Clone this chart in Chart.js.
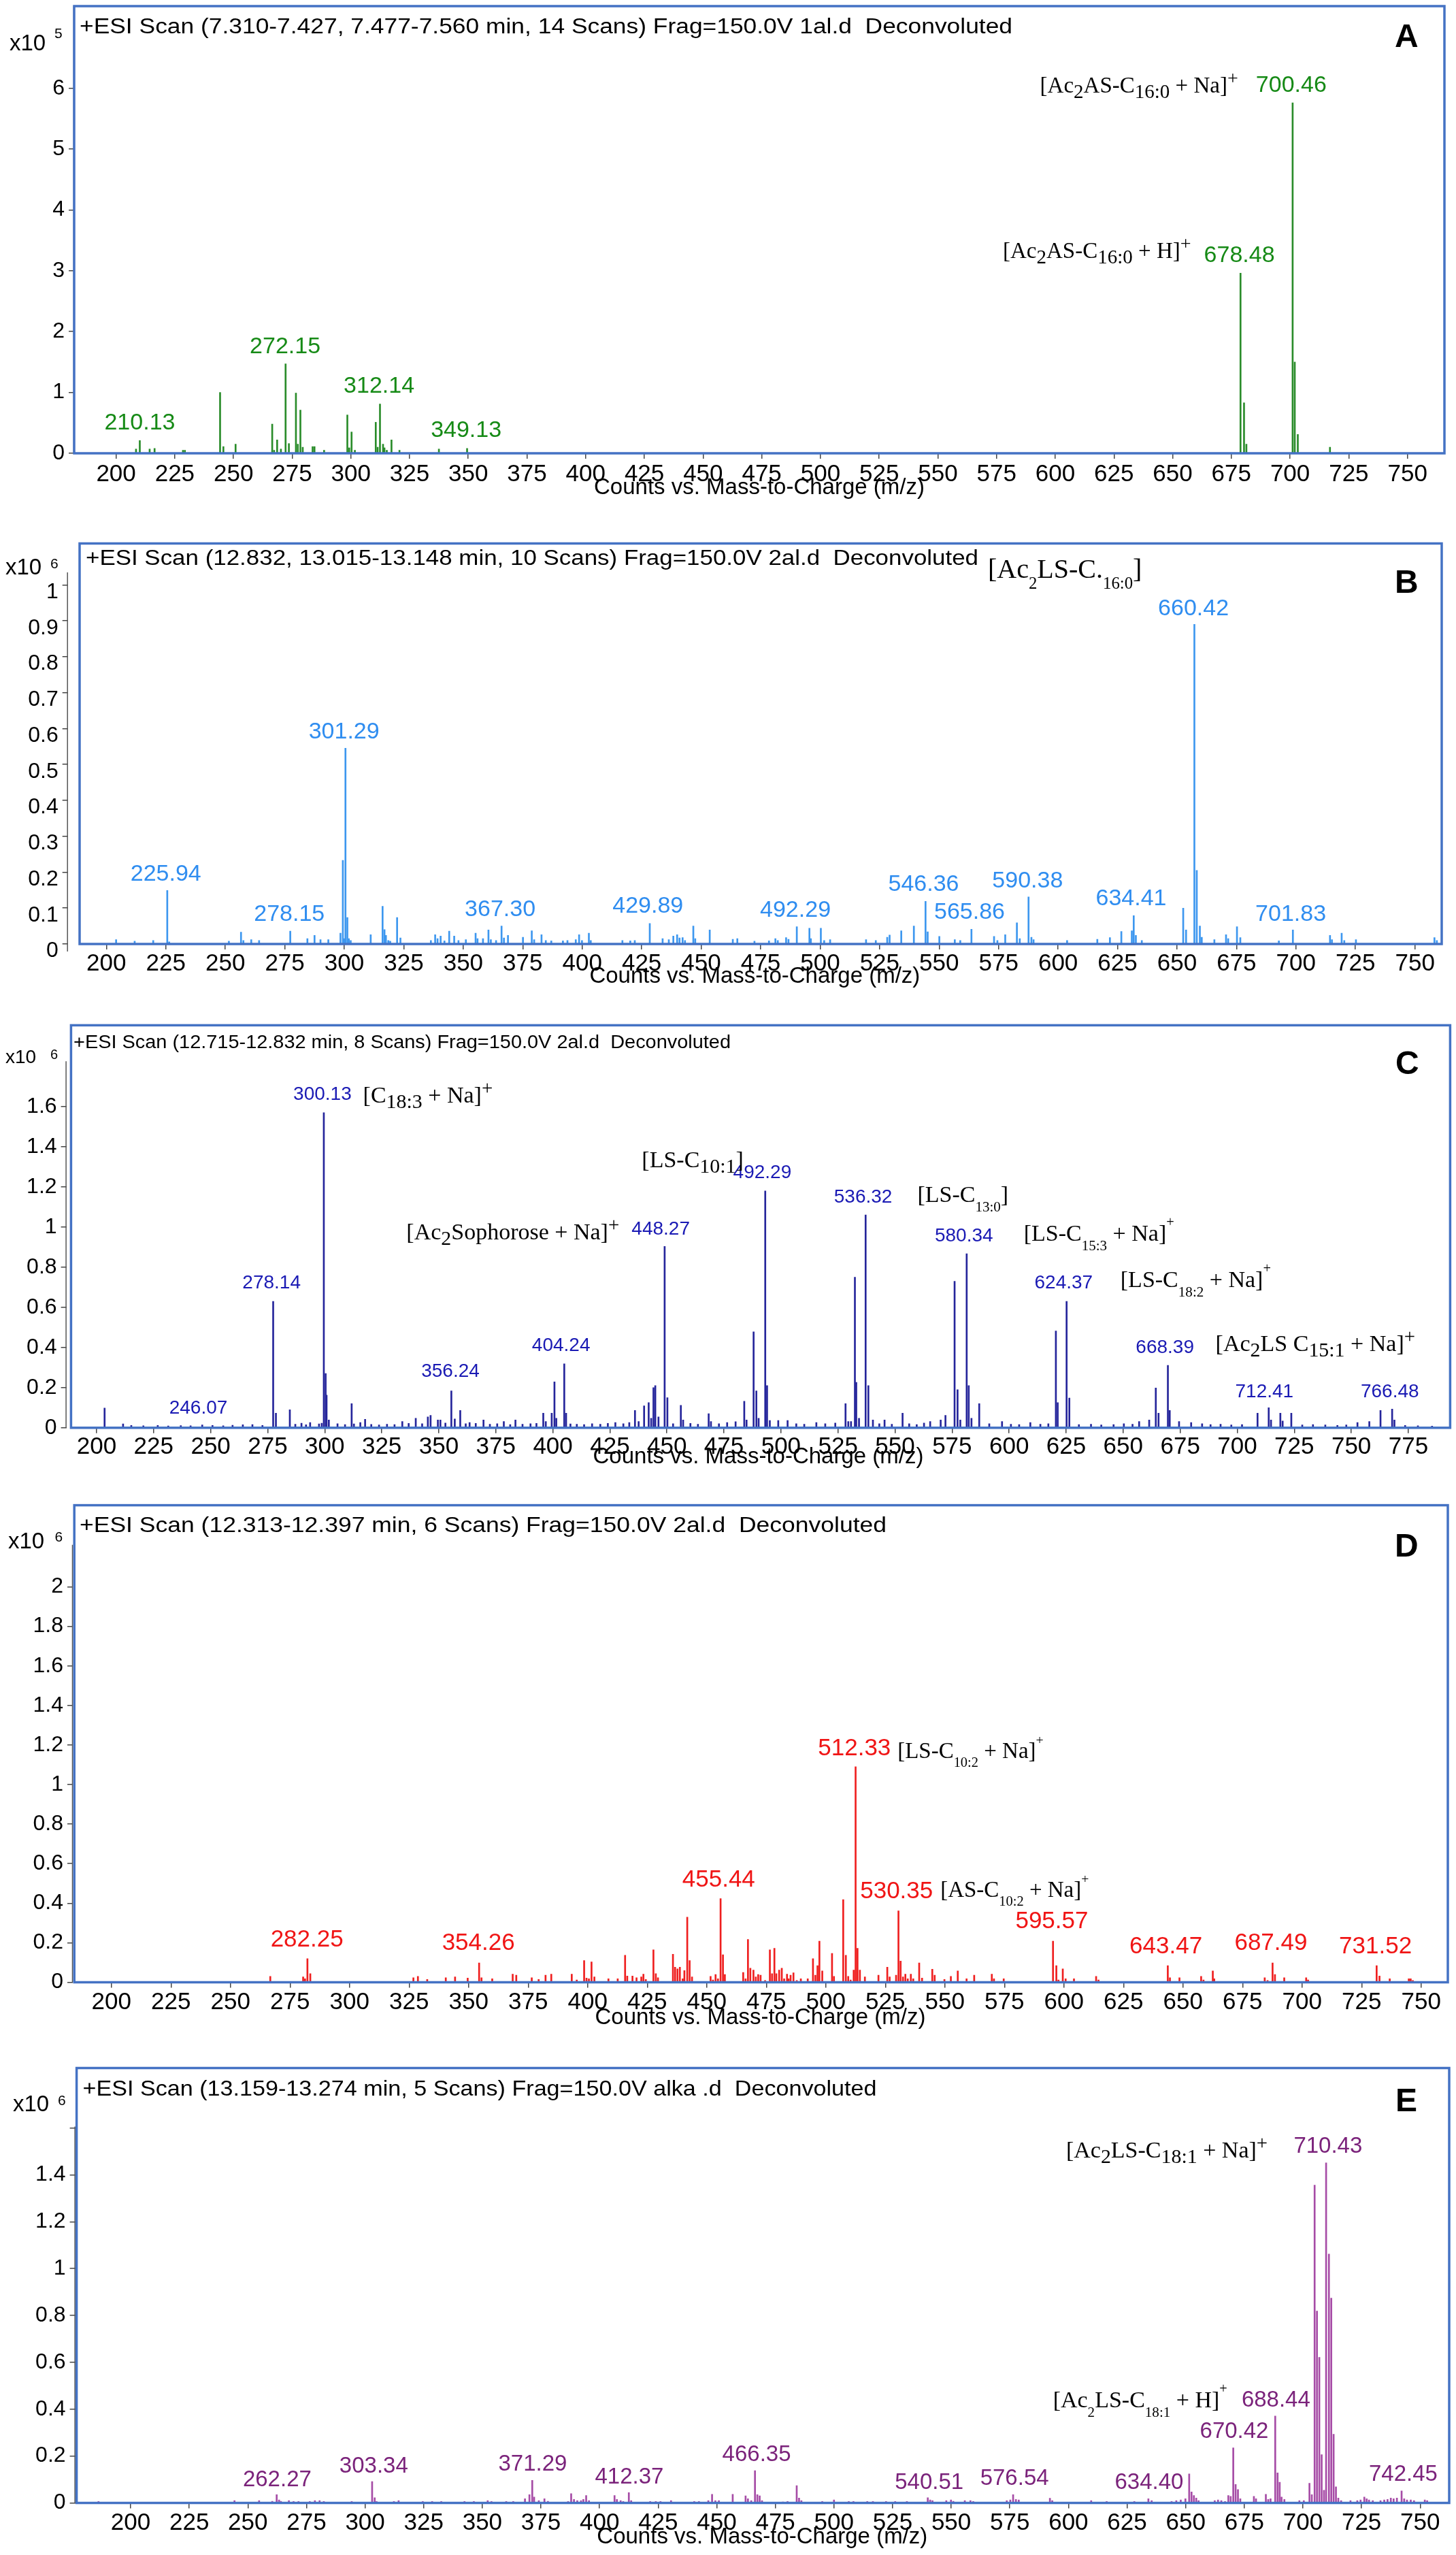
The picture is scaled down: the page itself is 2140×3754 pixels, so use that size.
<!DOCTYPE html>
<html>
<head>
<meta charset="utf-8">
<script src="https://cdn.jsdelivr.net/npm/chart.js@4.4.1/dist/chart.umd.min.js"></script>
<style>
html,body{margin:0;padding:0;background:#ffffff;}
#page{position:relative;width:2140px;height:3754px;overflow:hidden;background:#ffffff;}
#page canvas{position:absolute;left:0;}
</style>
</head>
<body>
<div id="page"></div>
<script>
// ---------------- DATA ----------------
const xTicksStd = [200,225,250,275,300,325,350,375,400,425,450,475,500,525,550,575,600,625,650,675,700,725,750];
const xTickLabelsStd = ['200','225','250','275','300','325','350','375','400','425','450','475','500','525','550','575','600','625','650','675','700','725','750'];
const xTicksC = [200,225,250,275,300,325,350,375,400,425,450,475,500,525,550,575,600,625,650,675,700,725,750,775];
const xTickLabelsC = ['200','225','250','275','300','325','350','375','400','425','450','475','500','525','550','575','600','625','650','675','700','725','750','775'];

const yTicksA = [0,1,2,3,4,5,6];
const yTickLabelsA = ['0','1','2','3','4','5','6'];
const yTicksB = [0,0.1,0.2,0.3,0.4,0.5,0.6,0.7,0.8,0.9,1];
const yTickLabelsB = ['0','0.1','0.2','0.3','0.4','0.5','0.6','0.7','0.8','0.9','1'];
const yTicksC = [0,0.2,0.4,0.6,0.8,1,1.2,1.4,1.6];
const yTickLabelsC = ['0','0.2','0.4','0.6','0.8','1','1.2','1.4','1.6'];
const yTicksD = [0,0.2,0.4,0.6,0.8,1,1.2,1.4,1.6,1.8,2];
const yTickLabelsD = ['0','0.2','0.4','0.6','0.8','1','1.2','1.4','1.6','1.8','2'];
const yTicksE = [0,0.2,0.4,0.6,0.8,1,1.2,1.4,1.6];
const yTickLabelsE = ['0','0.2','0.4','0.6','0.8','1','1.2','1.4',''];

const headerA = '+ESI Scan (7.310-7.427, 7.477-7.560 min, 14 Scans) Frag=150.0V 1al.d  Deconvoluted';
const headerB = '+ESI Scan (12.832, 13.015-13.148 min, 10 Scans) Frag=150.0V 2al.d  Deconvoluted';
const headerC = '+ESI Scan (12.715-12.832 min, 8 Scans) Frag=150.0V 2al.d  Deconvoluted';
const headerD = '+ESI Scan (12.313-12.397 min, 6 Scans) Frag=150.0V 2al.d  Deconvoluted';
const headerE = '+ESI Scan (13.159-13.274 min, 5 Scans) Frag=150.0V alka .d  Deconvoluted';
const xAxisTitle = 'Counts vs. Mass-to-Charge (m/z)';

// Panel A (x10^5 counts)
const mzA = [208.5,210.1,214.3,216.4,228.5,229.3,244.3,245.7,250.9,266.5,267.3,268.6,270.2,272.2,273.6,276.6,277.4,278.5,279.5,283.7,284.5,288.6,298.5,299.3,300.3,301.7,310.6,311.4,312.4,313.7,314.3,315.3,317.3,320.7,337.5,349.5,678.9,680.4,681.4,701.1,702.0,703.3,717.0];
const intA = [0.07,0.21,0.07,0.08,0.05,0.05,1.00,0.11,0.15,0.48,0.05,0.22,0.07,1.47,0.16,0.99,0.15,0.71,0.10,0.11,0.11,0.05,0.63,0.09,0.35,0.05,0.51,0.10,0.81,0.15,0.09,0.05,0.22,0.05,0.07,0.08,2.96,0.83,0.15,5.76,1.50,0.31,0.10];
const pkTextA = ['210.13','272.15','312.14','349.13','678.48','700.46'];
const pkXA = [210.1,272.0,312.0,349.1,678.4,700.5];
const pkYA = [0.50,1.75,1.10,0.37,3.25,6.04];
const annTextA = ['[Ac_{2}AS-C_{16:0} + H]^{+}','[Ac_{2}AS-C_{16:0} + Na]^{+}'];
const annXA = [577.7,593.5];
const annYA = [3.21,5.93];

// Panel B (x10^6 counts)
const mzB = [204.1,211.9,219.7,225.6,226.4,251.5,256.6,257.6,260.9,264.2,
 277.3,284.5,287.5,290.0,293.3,298.4,299.4,299.9,300.5,301.3,
 301.9,302.7,311.1,316.1,316.9,317.5,318.5,319.3,322.2,323.6,
 336.4,338.2,339.2,340.5,342.1,344.1,346.2,348.0,351.1,355.2,
 356.0,358.3,360.6,361.6,363.8,366.1,367.1,368.8,375.1,378.8,
 379.8,382.9,384.7,387.0,391.9,393.8,397.3,398.7,399.9,402.8,
 403.6,416.9,420.2,422.1,428.4,433.8,436.4,438.3,439.9,440.9,
 442.2,443.2,446.7,447.5,453.6,
 463.3,465.2,472.4,478.5,481.2,482.2,485.7,486.7,490.2,495.5,
 496.1,500.3,501.7,504.2,519.3,523.4,528.2,529.2,534.1,539.4,
 544.3,545.2,550.1,556.6,558.9,563.6,573.1,574.5,577.8,582.7,
 583.9,587.6,588.8,589.7,603.8,616.5,621.8,626.6,631.0,631.8,
 632.7,635.2,652.6,653.8,657.3,658.3,659.6,660.4,665.7,670.6,
 671.5,675.2,676.6,692.8,698.7,714.3,715.1,719.2,720.3,725.2,
 758.2,759.2];
const intB = [0.012,0.008,0.010,0.149,0.006,0.008,0.033,0.010,0.012,0.010,
 0.036,0.015,0.024,0.012,0.012,0.030,0.233,0.015,0.545,0.074,
 0.015,0.010,0.026,0.105,0.040,0.024,0.010,0.008,0.074,0.017,
 0.010,0.026,0.015,0.022,0.009,0.036,0.022,0.010,0.012,0.030,
 0.015,0.015,0.039,0.012,0.010,0.050,0.017,0.024,0.019,0.037,
 0.012,0.026,0.010,0.009,0.009,0.010,0.012,0.026,0.010,0.030,
 0.010,0.010,0.009,0.010,0.057,0.015,0.012,0.022,0.026,0.017,
 0.018,0.010,0.050,0.015,0.039,
 0.013,0.015,0.008,0.009,0.015,0.010,0.018,0.013,0.048,0.044,
 0.015,0.044,0.010,0.012,0.012,0.010,0.019,0.025,0.037,0.050,
 0.119,0.034,0.021,0.012,0.010,0.041,0.021,0.010,0.026,0.059,
 0.015,0.131,0.019,0.012,0.010,0.013,0.018,0.035,0.037,0.079,
 0.024,0.010,0.100,0.039,0.890,0.205,0.050,0.019,0.012,0.026,
 0.015,0.048,0.018,0.009,0.039,0.024,0.012,0.030,0.010,0.012,
 0.018,0.010];
const pkTextB = ['225.94','278.15','301.29','367.30','429.89','492.29','546.36','565.86','590.38','634.41','660.42','701.83'];
const pkXB = [225.0,276.9,299.9,365.5,427.6,489.6,543.5,562.8,587.2,630.7,656.9,697.8];
const pkYB = [0.194,0.0815,0.591,0.096,0.105,0.094,0.166,0.087,0.175,0.125,0.934,0.082];
const annTextB = ['[Ac__{2}LS-C.__{16:0}]'];
const annXB = [570.5];
const annYB = [1.02];

// Panel C (x10^6 counts)
const mzC = [203.5,211.6,277.4,278.6,284.7,289.8,293.6,297.5,298.7,299.6,
 300.4,300.8,301.8,311.8,312.8,315.6,317.7,334.0,339.9,345.2,
 346.4,349.6,350.7,355.5,357.0,359.4,363.5,369.6,378.5,383.6,
 395.8,396.9,399.5,400.7,401.5,405.0,405.8,407.7,427.4,436.0,
 437.6,440.0,442.0,443.1,444.1,444.9,446.3,449.0,450.2,456.1,
 457.1,468.3,469.3,
 483.9,484.9,488.0,489.2,490.2,493.1,493.9,495.1,498.8,502.9,
 515.5,528.3,529.5,530.7,532.4,533.0,534.2,537.1,538.3,540.3,
 545.4,553.3,559.5,565.4,570.0,572.1,576.1,577.4,578.6,581.4,
 582.3,583.5,586.9,596.9,609.3,620.5,621.3,625.2,626.4,657.0,
 661.4,664.3,665.5,669.6,670.4,674.5,679.8,708.9,713.8,714.8,
 718.9,719.9,723.7,752.7,757.9,762.8,767.9,768.9];
const intC = [0.098,0.019,0.63,0.073,0.09,0.023,0.026,0.019,0.023,1.57,
 0.27,0.163,0.039,0.12,0.019,0.026,0.042,0.031,0.047,0.054,
 0.062,0.039,0.039,0.184,0.044,0.086,0.026,0.039,0.031,0.039,
 0.073,0.031,0.073,0.229,0.047,0.319,0.073,0.019,0.026,0.086,
 0.031,0.109,0.125,0.047,0.2,0.21,0.054,0.903,0.15,0.112,
 0.039,0.07,0.031,
 0.132,0.039,0.478,0.184,0.047,1.18,0.21,0.036,0.036,0.036,
 0.026,0.12,0.031,0.031,0.75,0.226,0.047,1.06,0.21,0.039,
 0.039,0.073,0.016,0.031,0.039,0.062,0.73,0.19,0.039,0.867,
 0.21,0.047,0.12,0.031,0.026,0.482,0.125,0.63,0.148,0.031,
 0.039,0.198,0.073,0.311,0.086,0.031,0.026,0.073,0.1,0.039,
 0.073,0.034,0.073,0.026,0.031,0.086,0.093,0.039];
const mzCn = [215.2,220.5,226.8,231.4,236.9,241.2,246.3,250.8,255.5,259.6,
 264.1,268.3,272.7,287.1,291.8,305.6,308.9,320.4,323.8,327.3,
 330.6,336.8,342.7,352.9,361.8,366.2,372.4,375.6,381.3,386.7,
 390.2,392.8,410.5,413.7,417.2,420.8,424.1,430.9,433.5,452.7,
 460.3,463.6,472.8,476.4,480.1,506.7,510.2,519.4,523.8,543.1,
 548.6,556.2,562.7,591.3,600.8,604.4,613.7,617.2,630.6,635.9,
 640.4,645.8,650.3,654.1,684.6,688.3,692.7,697.4,702.1,728.5,
 733.2,738.6,743.9,747.8,773.6,779.2,785.4];
const intCn = [0.012,0.010,0.012,0.009,0.011,0.010,0.014,0.012,0.010,0.013,
 0.015,0.016,0.012,0.018,0.015,0.020,0.016,0.017,0.014,0.018,
 0.016,0.022,0.020,0.024,0.020,0.022,0.018,0.020,0.016,0.018,
 0.020,0.022,0.018,0.016,0.020,0.018,0.022,0.020,0.026,0.020,
 0.022,0.018,0.020,0.026,0.030,0.020,0.018,0.020,0.024,0.020,
 0.018,0.020,0.024,0.020,0.018,0.016,0.018,0.020,0.016,0.018,
 0.014,0.016,0.020,0.018,0.020,0.016,0.018,0.014,0.016,0.014,
 0.016,0.014,0.012,0.014,0.012,0.010,0.008];
const pkTextC = ['246.07','278.14','300.13','356.24','404.24','448.27','492.29','536.32','580.34','624.37','668.39','712.41','766.48'];
const pkXC = [244.6,276.7,299.0,355.1,403.6,447.3,491.8,536.0,580.2,623.9,668.3,711.9,766.9];
const pkYC = [0.098,0.72,1.66,0.28,0.41,0.99,1.27,1.149,0.954,0.72,0.397,0.179,0.179];
const annTextC = ['[C_{18:3} + Na]^{+}','[Ac_{2}Sophorose + Na]^{+}','[LS-C_{10:1}]','[LS-C__{13:0}]','[LS-C__{15:3} + Na]^^{+}','[LS-C__{18:2} + Na]^^{+}','[Ac_{2}LS C_{15:1} + Na]^{+}'];
const annXC = [316.8,335.8,439.0,559.8,606.4,648.8,690.5];
const annYC = [1.62,0.939,1.297,1.125,0.931,0.70,0.383];

// Panel D (x10^6 counts)
const mzD = [266.7,280.5,281.3,282.3,283.5,326.8,328.7,332.6,340.4,344.3,
 349.6,354.4,355.4,359.9,368.5,370.0,376.5,379.4,382.3,384.7,
 393.3,395.4,398.5,399.5,400.5,401.6,402.8,408.7,412.6,415.7,
 416.6,418.8,420.5,422.5,423.4,424.4,427.6,428.6,429.5,435.8,
 436.7,437.7,438.7,439.9,440.6,441.8,442.8,443.8,451.6,452.6,
 453.7,454.7,455.8,456.8,457.6,
 465.3,466.3,467.3,468.3,469.6,470.6,471.6,472.6,474.5,476.5,
 477.4,478.4,479.2,480.4,481.5,482.5,483.7,484.4,485.2,486.4,
 487.8,489.5,492.4,494.6,495.6,496.5,497.3,498.5,502.6,503.4,
 507.3,508.4,509.4,510.4,511.7,512.5,513.3,514.3,516.4,522.1,
 525.8,526.8,529.5,530.5,531.4,532.4,533.4,534.4,535.7,536.7,
 539.2,540.4,544.7,545.7,549.8,552.5,555.4,559.1,562.3,569.7,
 570.6,574.7,595.4,596.8,597.7,599.5,600.7,604.2,613.5,614.5,
 643.6,644.5,648.5,657.6,658.6,662.5,663.1,684.3,685.5,687.6,
 688.6,692.5,701.7,702.5,731.3,732.5,736.8,744.8,745.6,746.5];
const intD = [0.030,0.027,0.018,0.119,0.044,0.023,0.030,0.014,0.023,0.027,
 0.021,0.098,0.023,0.018,0.041,0.036,0.023,0.014,0.036,0.041,
 0.041,0.012,0.110,0.021,0.018,0.103,0.027,0.018,0.018,0.137,
 0.032,0.032,0.023,0.027,0.041,0.014,0.164,0.044,0.023,0.142,
 0.076,0.068,0.076,0.018,0.059,0.329,0.110,0.027,0.030,0.012,
 0.039,0.018,0.423,0.139,0.039,
 0.050,0.018,0.217,0.071,0.062,0.027,0.039,0.036,0.009,0.164,
 0.044,0.172,0.044,0.062,0.071,0.018,0.041,0.018,0.036,0.048,
 0.009,0.018,0.018,0.119,0.036,0.084,0.208,0.057,0.146,0.030,
 0.418,0.137,0.030,0.012,0.062,1.090,0.172,0.062,0.027,0.036,
 0.076,0.027,0.036,0.361,0.107,0.027,0.041,0.018,0.041,0.018,
 0.098,0.021,0.066,0.036,0.014,0.030,0.057,0.018,0.036,0.041,
 0.018,0.018,0.208,0.084,0.012,0.068,0.018,0.018,0.030,0.012,
 0.084,0.023,0.023,0.030,0.012,0.057,0.018,0.023,0.009,0.098,
 0.039,0.023,0.023,0.012,0.084,0.032,0.018,0.018,0.018,0.009];
const pkTextD = ['282.25','354.26','455.44','512.33','530.35','595.57','643.47','687.49','731.52'];
const pkXD = [282.1,354.1,455.0,512.0,529.7,594.9,642.8,686.9,730.8];
const pkYD = [0.213,0.196,0.516,1.182,0.46,0.306,0.181,0.196,0.178];
const annTextD = ['[LS-C__{10:2} + Na]^^{+}','[AS-C__{10:2} + Na]^^{+}'];
const annXD = [530.1,548.1];
const annYD = [1.134,0.432];

// Panel E (x10^6 counts)
const mzE = [186.3,244.3,254.8,260.4,262.3,263.3,264.1,267.5,269.5,271.6,
 276.4,278.6,280.6,282.4,294.3,303.0,304.1,304.9,312.3,314.3,
 324.6,328.6,332.5,342.4,346.4,352.3,353.9,360.2,363.2,368.2,
 370.1,371.3,372.1,374.1,376.5,378.0,386.6,387.9,389.1,390.5,
 392.1,393.1,394.3,395.5,406.4,407.4,409.0,410.1,412.5,413.5,
 421.6,424.0,426.0,430.5,440.4,442.4,446.4,448.0,449.4,450.9,
 456.8,462.3,463.3,464.7,466.3,467.3,468.3,469.3,478.2,480.2,
 484.1,485.1,486.1,495.0,500.0,506.3,508.3,514.2,516.6,522.2,
 526.1,531.1,540.0,541.0,542.0,547.9,549.9,550.9,555.8,558.2,
 559.4,573.7,575.2,576.4,577.6,578.8,592.1,593.1,609.7,616.3,
 628.1,634.1,635.5,644.0,646.0,647.9,649.9,651.5,652.5,653.5,
 654.5,655.5,662.4,663.8,665.2,666.8,668.2,669.2,670.3,671.3,
 672.3,673.3,679.1,680.0,684.2,685.2,686.2,688.2,689.2,690.1,
 690.9,692.1,698.5,700.4,702.8,703.8,705.0,706.0,707.0,708.0,
 709.0,709.9,711.1,712.1,713.1,714.1,715.1,716.3,720.3,723.2,
 724.6,726.2,727.2,728.2,729.8,733.1,734.7,736.1,737.5,738.7,
 740.1,742.1,743.2,744.4,746.0,747.4,752.0,753.0];
const intE = [0.006,0.010,0.010,0.007,0.035,0.013,0.007,0.010,0.006,0.006,
 0.006,0.010,0.010,0.006,0.006,0.091,0.022,0.006,0.006,0.010,
 0.006,0.006,0.006,0.006,0.006,0.010,0.006,0.006,0.006,0.018,
 0.035,0.096,0.025,0.010,0.018,0.007,0.006,0.040,0.015,0.010,
 0.010,0.015,0.032,0.010,0.032,0.015,0.010,0.006,0.044,0.010,
 0.006,0.006,0.006,0.010,0.006,0.006,0.010,0.037,0.010,0.010,
 0.037,0.030,0.018,0.010,0.138,0.035,0.030,0.010,0.004,0.006,
 0.074,0.021,0.010,0.006,0.013,0.006,0.006,0.006,0.006,0.006,
 0.006,0.006,0.022,0.013,0.010,0.010,0.013,0.007,0.010,0.010,
 0.006,0.010,0.013,0.035,0.015,0.013,0.020,0.010,0.010,0.006,
 0.006,0.018,0.010,0.006,0.010,0.013,0.018,0.124,0.047,0.032,
 0.021,0.010,0.010,0.013,0.010,0.006,0.032,0.028,0.235,0.079,
 0.057,0.018,0.028,0.018,0.037,0.015,0.018,0.371,0.128,0.088,
 0.025,0.015,0.010,0.010,0.084,0.035,1.356,0.819,0.621,0.206,
 0.054,1.451,1.062,0.874,0.293,0.069,0.021,0.010,0.010,0.010,
 0.013,0.025,0.018,0.013,0.010,0.010,0.013,0.015,0.021,0.018,
 0.021,0.051,0.018,0.013,0.013,0.010,0.013,0.010];
const pkTextE = ['262.27','303.34','371.29','412.37','466.35','540.51','576.54','634.40','670.42','688.44','710.43','742.45'];
const pkXE = [262.5,303.7,371.5,412.7,467.0,540.6,577.0,634.4,670.7,688.5,710.7,742.8];
const pkYE = [0.099,0.157,0.165,0.11,0.205,0.087,0.102,0.087,0.304,0.437,1.52,0.121];
const annTextE = ['[Ac__{2}LS-C__{18:1} + H]^^{+}','[Ac_{2}LS-C_{18:1} + Na]^{+}'];
const annXE = [593.4,599.0];
const annYE = [0.407,1.474];

// ---------------- RENDERING ----------------
const SANS = '"Liberation Sans", Arial, Helvetica, sans-serif';
const SERIF = '"Liberation Serif", "Times New Roman", Times, serif';
const TITLE_SIZE = 33;

function richSegments(str) {
  const segs = [];
  let i = 0, buf = '';
  while (i < str.length) {
    let kind = null;
    if (str.startsWith('__{', i)) kind = 'ss';
    else if (str.startsWith('^^{', i)) kind = 'SS';
    else if (str.startsWith('_{', i)) kind = 's';
    else if (str.startsWith('^{', i)) kind = 'S';
    if (kind) {
      if (buf) { segs.push({t: buf, k: 'n'}); buf = ''; }
      const start = str.indexOf('{', i) + 1;
      const end = str.indexOf('}', start);
      segs.push({t: str.slice(start, end), k: kind});
      i = end + 1;
    } else { buf += str[i]; i++; }
  }
  if (buf) segs.push({t: buf, k: 'n'});
  return segs;
}
const RICH = {n: [1, 0], s: [0.88, 0.24], S: [0.85, -0.36], ss: [0.62, 0.40], SS: [0.6, -0.62]};
function drawRich(ctx, str, x, y, size, color) {
  ctx.fillStyle = color;
  let cx = x;
  for (const s of richSegments(str)) {
    const [sc, dy] = RICH[s.k];
    ctx.font = (size * sc) + 'px ' + SERIF;
    ctx.fillText(s.t, cx, y + dy * size);
    cx += ctx.measureText(s.t).width;
  }
}
function fitText(ctx, text, x, y, font, w) {
  ctx.font = font;
  const mw = ctx.measureText(text).width;
  const s = w / mw;
  ctx.save(); ctx.translate(x, y); ctx.scale(s, 1); ctx.fillText(text, 0, 0); ctx.restore();
}

const panels = [
  { id: 'A', band: [0, 745], box: {l: 109, t: 9, r: 2123, b: 666}, axisX: 109,
    xMin: 182.15, xMax: 765.75, yMax: 7.35, yAxisTop: 7.35, yAxisExt: 0, yLabelOffset: 0,
    xTicks: xTicksStd, xTickLabels: xTickLabelsStd, yTicks: yTicksA, yTickLabels: yTickLabelsA,
    xTitleY: 717, tickPadX: 2,
    series: [{mz: mzA, it: intA}], peakColor: '#2a8c2a', labelColor: '#168a16',
    pkText: pkTextA, pkX: pkXA, pkY: pkYA, annText: annTextA, annX: annXA, annY: annYA,
    header: headerA, hdr: {x: 117, y: 49, size: 31, w: 1371},
    exponent: '5', mag: {x: 14, y: 74, size: 33, ex: 80, ey: 56, esize: 21},
    letter: {x: 2050, y: 69}, numSize: 34, brSize: 33 },
  { id: 'B', band: [745, 1460], box: {l: 117, t: 798.5, r: 2119, b: 1387}, axisX: 99.7,
    xMin: 183.81, xMax: 761.25, yMax: 1.1154, yAxisTop: 1.035, yAxisExt: 11, yLabelOffset: 10.6,
    xTicks: xTicksStd, xTickLabels: xTickLabelsStd, yTicks: yTicksB, yTickLabels: yTickLabelsB,
    xTitleY: 1435, tickPadX: 0,
    series: [{mz: mzB, it: intB}], peakColor: '#3d97ef', labelColor: '#2f8df0',
    pkText: pkTextB, pkX: pkXB, pkY: pkYB, annText: annTextB, annX: annXB, annY: annYB,
    header: headerB, hdr: {x: 126, y: 829.7, size: 32, w: 1312},
    exponent: '6', mag: {x: 8, y: 843.6, size: 33, ex: 74, ey: 835, esize: 21},
    letter: {x: 2050, y: 871}, numSize: 34, brSize: 40 },
  { id: 'C', band: [1460, 2165], box: {l: 104.4, t: 1506.4, r: 2131.4, b: 2097.8}, axisX: 97.6,
    xMin: 186.76, xMax: 793.33, yMax: 2.005, yAxisTop: 1.826, yAxisExt: 0, yLabelOffset: 0,
    xTicks: xTicksC, xTickLabels: xTickLabelsC, yTicks: yTicksC, yTickLabels: yTickLabelsC,
    xTitleY: 2141, tickPadX: 0,
    series: [{mz: mzC, it: intC}, {mz: mzCn, it: intCn}], peakColor: '#25259b', labelColor: '#1a1ab4',
    pkText: pkTextC, pkX: pkXC, pkY: pkYC, annText: annTextC, annX: annXC, annY: annYC,
    header: headerC, hdr: {x: 108, y: 1539.5, size: 27, w: 966},
    exponent: '6', mag: {x: 8, y: 1561.5, size: 28, ex: 74, ey: 1556, esize: 20},
    letter: {x: 2051, y: 1578}, numSize: 28, brSize: 34 },
  { id: 'D', band: [2165, 2995], box: {l: 109.2, t: 2211.6, r: 2128, b: 2912.5}, axisX: 107,
    xMin: 183.77, xMax: 761.2, yMax: 2.413, yAxisTop: 2.213, yAxisExt: 0, yLabelOffset: 0,
    xTicks: xTicksStd, xTickLabels: xTickLabelsStd, yTicks: yTicksD, yTickLabels: yTickLabelsD,
    xTitleY: 2965, tickPadX: 1,
    series: [{mz: mzD, it: intD}], peakColor: '#ef1f1f', labelColor: '#f01515',
    pkText: pkTextD, pkX: pkXD, pkY: pkYD, annText: annTextD, annX: annXD, annY: annYD,
    header: headerD, hdr: {x: 117, y: 2251.4, size: 32, w: 1186},
    exponent: '6', mag: {x: 12, y: 2274.6, size: 33, ex: 80.5, ey: 2265, esize: 21},
    letter: {x: 2050, y: 2287}, numSize: 35, brSize: 33 },
  { id: 'E', band: [2995, 3754], box: {l: 112.6, t: 3038.5, r: 2130, b: 3677.5}, axisX: 110.6,
    xMin: 176.38, xMax: 762.4, yMax: 1.856, yAxisTop: 1.606, yAxisExt: 0, yLabelOffset: 0,
    xTicks: xTicksStd, xTickLabels: xTickLabelsStd, yTicks: yTicksE, yTickLabels: yTickLabelsE,
    xTitleY: 3728, tickPadX: 1,
    series: [{mz: mzE, it: intE}], peakColor: '#a64ca6', labelColor: '#7b237b',
    pkText: pkTextE, pkX: pkXE, pkY: pkYE, annText: annTextE, annX: annXE, annY: annYE,
    header: headerE, hdr: {x: 121.5, y: 3079, size: 32, w: 1167},
    exponent: '6', mag: {x: 19, y: 3102, size: 33, ex: 85, ey: 3092.7, esize: 21},
    letter: {x: 2051, y: 3102}, numSize: 33, brSize: 34 }
];

function makeOverlay(p) {
  return {
    id: 'overlay' + p.id,
    afterDraw(chart) {
      const ctx = chart.ctx, xs = chart.scales.x, ys = chart.scales.y, ca = chart.chartArea, o = p.band[0];
      ctx.save();
      // y axis line
      ctx.strokeStyle = '#555555'; ctx.lineWidth = 1.5;
      ctx.beginPath();
      ctx.moveTo(ca.left - 0.5, ys.getPixelForValue(p.yAxisTop));
      ctx.lineTo(ca.left - 0.5, ca.bottom + p.yAxisExt);
      ctx.stroke();
      // frame
      ctx.strokeStyle = '#4472c4'; ctx.lineWidth = 3.5;
      ctx.strokeRect(p.box.l, p.box.t - o, p.box.r - p.box.l, p.box.b - p.box.t);
      // header
      ctx.fillStyle = '#000000'; ctx.textAlign = 'left'; ctx.textBaseline = 'alphabetic';
      fitText(ctx, p.header, p.hdr.x, p.hdr.y - o, p.hdr.size + 'px ' + SANS, p.hdr.w);
      // magnitude
      ctx.font = p.mag.size + 'px ' + SANS;
      ctx.fillText('x10', p.mag.x, p.mag.y - o);
      ctx.font = p.mag.esize + 'px ' + SANS;
      ctx.fillText(p.exponent, p.mag.ex, p.mag.ey - o);
      // panel letter
      ctx.font = 'bold 48px ' + SANS;
      ctx.fillText(p.id, p.letter.x, p.letter.y - o);
      // peak labels
      ctx.fillStyle = p.labelColor; ctx.textAlign = 'center'; ctx.textBaseline = 'middle';
      ctx.font = p.numSize + 'px ' + SANS;
      p.pkText.forEach((t, i) => ctx.fillText(t, xs.getPixelForValue(p.pkX[i]), ys.getPixelForValue(p.pkY[i])));
      // annotations
      ctx.textAlign = 'left'; ctx.textBaseline = 'alphabetic';
      p.annText.forEach((t, i) => drawRich(ctx, t, xs.getPixelForValue(p.annX[i]), ys.getPixelForValue(p.annY[i]), p.brSize, '#000000'));
      ctx.restore();
    }
  };
}

const page = document.getElementById('page');
panels.forEach(p => {
  const h = p.band[1] - p.band[0];
  const cv = document.createElement('canvas');
  cv.width = 2140; cv.height = h;
  cv.style.top = p.band[0] + 'px';
  cv.style.width = '2140px'; cv.style.height = h + 'px';
  page.appendChild(cv);
  const xAxisH = p.xTitleY + 0.6 * TITLE_SIZE - p.box.b;
  const padBottom = h - (p.box.b - p.band[0]) - xAxisH;
  new Chart(cv, {
    type: 'bar',
    data: {
      datasets: p.series.map(s => ({
        data: s.mz.map((m, i) => ({x: m, y: s.it[i]})),
        backgroundColor: p.peakColor, borderWidth: 0, barThickness: 2, grouped: false
      }))
    },
    options: {
      responsive: false, animation: false, devicePixelRatio: 1,
      layout: {padding: {left: 0, top: p.box.t - p.band[0], right: 2140 - p.box.r, bottom: padBottom}},
      plugins: {legend: {display: false}, tooltip: {enabled: false}, title: {display: false}},
      scales: {
        x: {
          type: 'linear', min: p.xMin, max: p.xMax, offset: false, bounds: 'data',
          grid: {display: true, offset: false, drawOnChartArea: false, drawTicks: true, tickLength: 8, color: '#444444', lineWidth: 1.5},
          border: {display: false},
          afterBuildTicks: (sc) => { sc.ticks = p.xTicks.map(v => ({value: v})); },
          ticks: {autoSkip: false, maxRotation: 0, minRotation: 0, padding: p.tickPadX, color: '#000000',
                  font: {family: SANS, size: 35}, callback: (v, i) => p.xTickLabels[i]},
          title: {display: true, text: xAxisTitle, color: '#000000', font: {family: SANS, size: TITLE_SIZE}, padding: 0},
          afterFit: (sc) => { sc.height = xAxisH; sc.paddingLeft = 0; sc.paddingRight = 0; }
        },
        y: {
          type: 'linear', min: 0, max: p.yMax, bounds: 'data',
          grid: {display: true, drawOnChartArea: false, drawTicks: true, tickLength: 8, color: '#444444', lineWidth: 1.5},
          border: {display: false},
          afterBuildTicks: (sc) => { sc.ticks = p.yTicks.map(v => ({value: v})); },
          ticks: {autoSkip: false, padding: 6, labelOffset: p.yLabelOffset, color: '#000000',
                  font: {family: SANS, size: 32}, callback: (v, i) => p.yTickLabels[i]},
          afterFit: (sc) => { sc.width = p.axisX; sc.paddingTop = 0; sc.paddingBottom = 0; }
        }
      }
    },
    plugins: [makeOverlay(p)]
  });
});
</script>
</body>
</html>
